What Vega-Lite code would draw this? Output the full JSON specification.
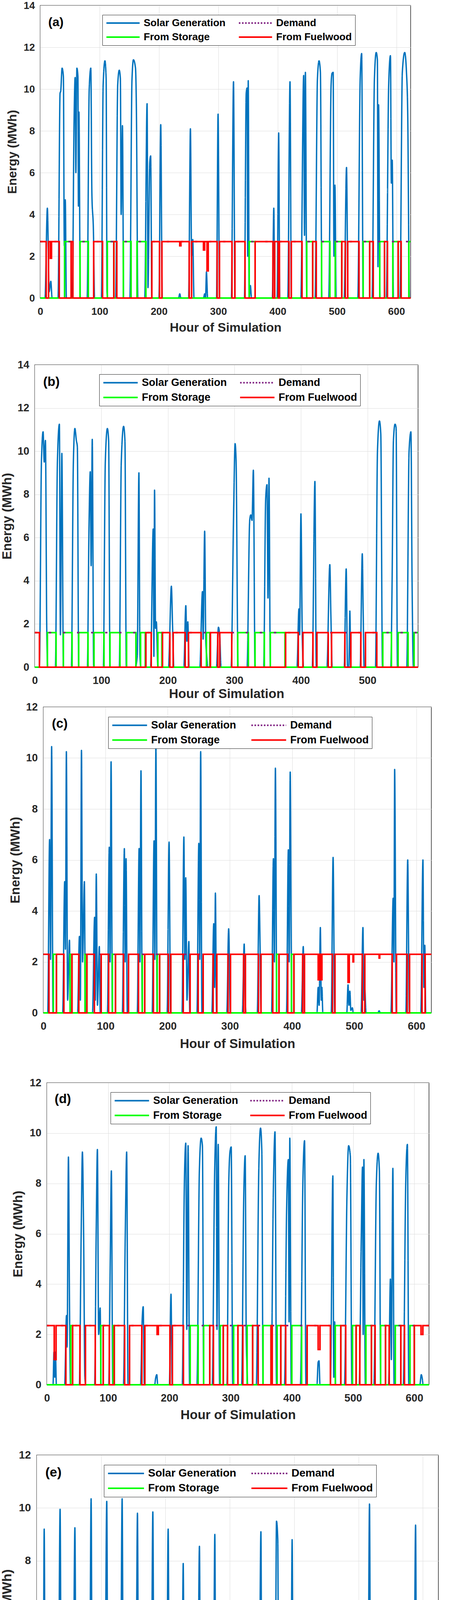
{
  "$schema": "https://vega.github.io/schema/vega-lite/v6.json",
  "background": "white",
  "padding": {"left": 0, "top": 0, "right": 0, "bottom": 0},
  "spacing": 0,
  "config": {
    "font": "'Liberation Sans', Arial, sans-serif",
    "view": {"stroke": "#262626", "strokeWidth": 1.5},
    "axis": {"labelFont": "'Liberation Sans', Arial, sans-serif", "labelFontWeight": "bold", "labelColor": "#262626", "titleFont": "'Liberation Sans', Arial, sans-serif", "titleFontWeight": "bold", "titleColor": "#262626", "gridColor": "#DEDEDE", "gridWidth": 1, "domain": false, "ticks": false, "labelFlush": false, "labelOverlap": false, "format": "d"},
    "legend": {"labelFont": "'Liberation Sans', Arial, sans-serif", "labelFontWeight": "bold", "labelColor": "#000000", "strokeColor": "#262626", "fillColor": "#ffffff", "symbolType": "M-1,0H7", "symbolStrokeWidth": 4, "rowPadding": 10, "padding": 8, "orient": "none", "columns": 2, "labelLimit": 0}
  },
  "datasets": {
    "a_s": [{"h":0,"v":0},{"h":8,"v":0},{"h":12,"v":4.3},{"h":15,"v":0.3},{"h":17.8,"v":0.8},{"h":20,"v":0},{"h":30,"v":0},{"h":33.4,"v":9.8},{"h":34.5,"v":9.9},{"h":36.8,"v":11},{"h":39,"v":10.6},{"h":40.5,"v":2.5},{"h":42.2,"v":4.7},{"h":44,"v":0},{"h":54,"v":0},{"h":57,"v":8.5},{"h":58.8,"v":10.55},{"h":60,"v":6},{"h":61.7,"v":11},{"h":63.5,"v":10.6},{"h":64.3,"v":4.4},{"h":65.2,"v":8.9},{"h":67.5,"v":0},{"h":79,"v":0},{"h":82.5,"v":10},{"h":85.2,"v":11},{"h":87,"v":5},{"h":89.6,"v":3.2},{"h":91.5,"v":0},{"h":103,"v":0},{"h":106,"v":10.2},{"h":109,"v":11.35},{"h":111,"v":10.5},{"h":112.5,"v":0.3},{"h":114,"v":0},{"h":127,"v":0},{"h":130.5,"v":10.2},{"h":133.1,"v":10.9},{"h":135,"v":10.5},{"h":136.3,"v":4},{"h":138.5,"v":8.25},{"h":140.5,"v":0},{"h":151,"v":0},{"h":154.5,"v":10.4},{"h":157,"v":11.4},{"h":160.5,"v":11},{"h":162,"v":9},{"h":164.5,"v":0},{"h":176,"v":0},{"h":180,"v":9.3},{"h":181.5,"v":0.5},{"h":184.5,"v":6.5},{"h":186,"v":6.8},{"h":188,"v":0},{"h":200,"v":0},{"h":203,"v":8.3},{"h":205.5,"v":0},{"h":233,"v":0},{"h":235,"v":0.2},{"h":237,"v":0},{"h":250,"v":0},{"h":253,"v":8.1},{"h":255,"v":2},{"h":257,"v":2.8},{"h":259,"v":0},{"h":275,"v":0},{"h":277,"v":0.2},{"h":278.5,"v":0},{"h":280,"v":1.25},{"h":282,"v":0},{"h":297,"v":0},{"h":299.6,"v":8.8},{"h":302,"v":0},{"h":322,"v":0},{"h":325.6,"v":10.35},{"h":328,"v":0},{"h":344,"v":0},{"h":347,"v":9.8},{"h":348.5,"v":10.05},{"h":349.5,"v":2},{"h":350.4,"v":10.4},{"h":352,"v":0},{"h":354,"v":0.6},{"h":356,"v":0},{"h":391,"v":0},{"h":393.5,"v":4.3},{"h":395,"v":0},{"h":399,"v":0},{"h":401.7,"v":7.9},{"h":403.5,"v":0},{"h":417,"v":0},{"h":420.8,"v":10.35},{"h":423,"v":0},{"h":439,"v":0},{"h":443.8,"v":10.65},{"h":445.2,"v":3},{"h":446.7,"v":10.8},{"h":449,"v":0},{"h":463,"v":0},{"h":467,"v":10.5},{"h":469.7,"v":11.35},{"h":472,"v":10.8},{"h":474.5,"v":0},{"h":486,"v":0},{"h":490,"v":10.2},{"h":491.6,"v":10.75},{"h":493.5,"v":10.8},{"h":494.8,"v":2},{"h":496.5,"v":5.4},{"h":498.5,"v":0},{"h":512,"v":0},{"h":516,"v":6.25},{"h":518.5,"v":0},{"h":535,"v":0},{"h":539,"v":10.5},{"h":541.5,"v":11.7},{"h":544,"v":0},{"h":559,"v":0},{"h":563,"v":10.5},{"h":566,"v":11.75},{"h":568,"v":11.4},{"h":569,"v":1.5},{"h":570,"v":9.25},{"h":572.5,"v":0},{"h":583,"v":0},{"h":587,"v":10.2},{"h":590,"v":11.6},{"h":591.5,"v":5.5},{"h":593,"v":6.6},{"h":595,"v":0},{"h":606,"v":0},{"h":610,"v":10.8},{"h":614,"v":11.75},{"h":617,"v":10.8},{"h":619,"v":9},{"h":622,"v":0},{"h":624,"v":0}],
    "a_g": [{"h":0,"v":0},{"h":41,"v":2.7},{"h":52,"v":0},{"h":67,"v":2.7},{"h":81,"v":0},{"h":113,"v":2.7},{"h":124,"v":0},{"h":140,"v":2.7},{"h":153,"v":0},{"h":163,"v":2.7},{"h":178,"v":0},{"h":352,"v":2.7},{"h":362,"v":0},{"h":449,"v":2.7},{"h":459,"v":0},{"h":474,"v":2.7},{"h":488,"v":0},{"h":497,"v":2.7},{"h":508,"v":0},{"h":544,"v":2.7},{"h":555,"v":0},{"h":572,"v":2.7},{"h":580,"v":0},{"h":594,"v":2.7},{"h":603,"v":0},{"h":621,"v":2.7},{"h":624,"v":2.7}],
    "a_d": [{"h":0,"v":2.7},{"h":624,"v":2.7}],
    "a_r": [{"h":0,"v":2.7},{"h":10,"v":0},{"h":14,"v":2.7},{"h":17,"v":1.9},{"h":19,"v":2.7},{"h":32,"v":0},{"h":52,"v":2.7},{"h":55,"v":0},{"h":90,"v":2.7},{"h":105,"v":0},{"h":124,"v":2.7},{"h":129,"v":0},{"h":188,"v":2.7},{"h":201,"v":0},{"h":205,"v":2.7},{"h":235,"v":2.5},{"h":237,"v":2.7},{"h":251,"v":0},{"h":255,"v":2.7},{"h":275,"v":2.3},{"h":277,"v":2.7},{"h":281,"v":1.3},{"h":283,"v":2.7},{"h":298,"v":0},{"h":302,"v":2.7},{"h":323,"v":0},{"h":328,"v":2.7},{"h":345,"v":0},{"h":362,"v":2.7},{"h":392,"v":0},{"h":395,"v":2.7},{"h":401,"v":0},{"h":403,"v":2.7},{"h":419,"v":0},{"h":423,"v":2.7},{"h":441,"v":0},{"h":459,"v":2.7},{"h":465,"v":0},{"h":508,"v":2.7},{"h":514,"v":0},{"h":518,"v":2.7},{"h":537,"v":0},{"h":555,"v":2.7},{"h":561,"v":0},{"h":580,"v":2.7},{"h":585,"v":0},{"h":603,"v":2.7},{"h":608,"v":0},{"h":624,"v":0}],
    "b_s": [{"h":0,"v":0},{"h":7,"v":0},{"h":10,"v":9.5},{"h":12.5,"v":10.9},{"h":14.2,"v":9.5},{"h":16,"v":10.5},{"h":18,"v":1.8},{"h":19.5,"v":0},{"h":31,"v":0},{"h":34,"v":9.5},{"h":37,"v":11.25},{"h":38.5,"v":1.5},{"h":40.7,"v":9.9},{"h":43,"v":0},{"h":55,"v":0},{"h":58,"v":9.5},{"h":60.3,"v":11.05},{"h":62.5,"v":10.5},{"h":64,"v":10.2},{"h":66,"v":0},{"h":79,"v":0},{"h":81.5,"v":6.5},{"h":83.4,"v":9.05},{"h":84.7,"v":4.7},{"h":86.4,"v":10.55},{"h":88.5,"v":0},{"h":103,"v":0},{"h":106,"v":9.5},{"h":109.1,"v":11.05},{"h":111,"v":10.5},{"h":113,"v":0},{"h":127,"v":0},{"h":130,"v":9.5},{"h":133.5,"v":11.15},{"h":135.5,"v":10.5},{"h":137.5,"v":0},{"h":151,"v":0},{"h":154,"v":0.5},{"h":156.5,"v":9},{"h":158,"v":0.5},{"h":159.5,"v":0},{"h":174,"v":0},{"h":178,"v":6.4},{"h":179,"v":0.5},{"h":180,"v":8.2},{"h":181.5,"v":1.8},{"h":182.7,"v":2.1},{"h":185,"v":0},{"h":201,"v":0},{"h":205.3,"v":3.75},{"h":207,"v":2},{"h":209,"v":0},{"h":224,"v":0},{"h":227,"v":2.85},{"h":228.5,"v":1.2},{"h":230,"v":2.1},{"h":232,"v":0},{"h":248,"v":0},{"h":252,"v":3.5},{"h":253,"v":1.3},{"h":255.3,"v":6.3},{"h":257,"v":1.2},{"h":258.5,"v":0.5},{"h":260,"v":0},{"h":273,"v":0},{"h":276,"v":1.85},{"h":278,"v":1.4},{"h":280,"v":0},{"h":295,"v":0},{"h":299,"v":7.5},{"h":301,"v":10.35},{"h":302.5,"v":9.6},{"h":305.5,"v":0},{"h":319,"v":0},{"h":323,"v":6.8},{"h":324.6,"v":7.05},{"h":326.5,"v":6.8},{"h":328.5,"v":9.12},{"h":331,"v":0},{"h":344,"v":0},{"h":347,"v":7.8},{"h":349,"v":8.45},{"h":350.5,"v":3.2},{"h":352,"v":8.75},{"h":354,"v":0},{"h":394,"v":0},{"h":397,"v":2.7},{"h":398,"v":1.5},{"h":400,"v":7.1},{"h":402,"v":1.5},{"h":404,"v":0},{"h":417,"v":0},{"h":421,"v":8.6},{"h":423,"v":0},{"h":439,"v":0},{"h":443.4,"v":4.75},{"h":445,"v":2.4},{"h":447,"v":0},{"h":465,"v":0},{"h":468,"v":4.55},{"h":470,"v":0},{"h":472,"v":0},{"h":473.5,"v":2.6},{"h":475,"v":0},{"h":489,"v":0},{"h":492.2,"v":5.25},{"h":493.5,"v":2.6},{"h":495,"v":0},{"h":512,"v":0},{"h":515,"v":10},{"h":518,"v":11.4},{"h":520,"v":10.8},{"h":522.5,"v":0},{"h":535,"v":0},{"h":537,"v":4},{"h":539,"v":10.5},{"h":541.4,"v":11.25},{"h":543,"v":11.1},{"h":545,"v":0},{"h":559,"v":0},{"h":562.5,"v":10},{"h":565.3,"v":10.9},{"h":567,"v":4},{"h":569,"v":0},{"h":576,"v":0}],
    "b_g": [{"h":0,"v":0},{"h":19,"v":1.6},{"h":32,"v":0},{"h":43,"v":1.6},{"h":56,"v":0},{"h":66,"v":1.6},{"h":80,"v":0},{"h":89,"v":1.6},{"h":104,"v":0},{"h":113,"v":1.6},{"h":128,"v":0},{"h":138,"v":1.6},{"h":152,"v":0},{"h":159,"v":1.6},{"h":166,"v":0},{"h":185,"v":1.6},{"h":191,"v":0},{"h":258,"v":1.6},{"h":263,"v":0},{"h":305,"v":1.6},{"h":321,"v":0},{"h":331,"v":1.6},{"h":345,"v":0},{"h":354,"v":1.6},{"h":376,"v":0},{"h":523,"v":1.6},{"h":536,"v":0},{"h":546,"v":1.6},{"h":561,"v":0},{"h":570,"v":1.6},{"h":576,"v":1.6}],
    "b_d": [{"h":0,"v":1.6},{"h":576,"v":1.6}],
    "b_r": [{"h":0,"v":1.6},{"h":7,"v":0},{"h":167,"v":1.6},{"h":175,"v":0},{"h":192,"v":1.6},{"h":203,"v":0},{"h":208,"v":1.6},{"h":226,"v":0},{"h":231,"v":1.6},{"h":250,"v":0},{"h":264,"v":1.6},{"h":275,"v":0},{"h":278,"v":1.6},{"h":296,"v":0},{"h":377,"v":1.6},{"h":396,"v":0},{"h":403,"v":1.6},{"h":418,"v":0},{"h":424,"v":1.6},{"h":441,"v":0},{"h":446,"v":1.6},{"h":466,"v":0},{"h":475,"v":1.6},{"h":490,"v":0},{"h":497,"v":1.6},{"h":514,"v":0},{"h":576,"v":0}],
    "c_s": [{"h":0,"v":0},{"h":7,"v":0},{"h":10,"v":6.8},{"h":11.5,"v":2.1},{"h":13.3,"v":10.45},{"h":15.5,"v":0},{"h":31,"v":0},{"h":34.3,"v":5.15},{"h":35.5,"v":2.5},{"h":37,"v":10.25},{"h":39,"v":0.5},{"h":42,"v":2.85},{"h":43.5,"v":0},{"h":55,"v":0},{"h":58,"v":3},{"h":59.5,"v":0.5},{"h":61.3,"v":10.3},{"h":63,"v":2},{"h":66,"v":5.15},{"h":67.5,"v":0},{"h":79,"v":0},{"h":82.4,"v":3.75},{"h":83.5,"v":0.5},{"h":85.1,"v":5.45},{"h":87,"v":0.3},{"h":90,"v":2.6},{"h":91.5,"v":0},{"h":103,"v":0},{"h":106,"v":6.5},{"h":107.3,"v":2},{"h":108.9,"v":9.85},{"h":111,"v":0},{"h":127,"v":0},{"h":130.3,"v":6.45},{"h":131.5,"v":2},{"h":133,"v":6.05},{"h":135,"v":0},{"h":151,"v":0},{"h":154,"v":6.45},{"h":155.3,"v":2},{"h":157,"v":9.5},{"h":159,"v":0},{"h":175,"v":0},{"h":178,"v":6.75},{"h":179.3,"v":2.1},{"h":181,"v":10.5},{"h":183,"v":0},{"h":199,"v":0},{"h":202.2,"v":6.7},{"h":204.5,"v":0},{"h":223,"v":0},{"h":226,"v":6.9},{"h":227.5,"v":2.1},{"h":229,"v":5.3},{"h":231,"v":0.5},{"h":234,"v":2.8},{"h":235.5,"v":0},{"h":247,"v":0},{"h":250,"v":6.65},{"h":251.5,"v":2.1},{"h":253,"v":10.25},{"h":255,"v":0},{"h":271,"v":0},{"h":274,"v":3.5},{"h":275.3,"v":1},{"h":276.7,"v":4.7},{"h":278.5,"v":0},{"h":295,"v":0},{"h":298,"v":3.3},{"h":300.5,"v":0},{"h":320,"v":0},{"h":323,"v":2.7},{"h":324.5,"v":0.6},{"h":326,"v":0},{"h":344,"v":0},{"h":347,"v":4.6},{"h":348.5,"v":2.7},{"h":350,"v":0},{"h":367,"v":0},{"h":370,"v":6.05},{"h":371.5,"v":2},{"h":373.2,"v":9.6},{"h":375.5,"v":0},{"h":391,"v":0},{"h":394,"v":6.4},{"h":395.3,"v":2},{"h":397,"v":9.45},{"h":399.5,"v":0},{"h":415,"v":0},{"h":418,"v":2.6},{"h":420,"v":0},{"h":440,"v":0},{"h":442,"v":1},{"h":443.5,"v":0.3},{"h":445.5,"v":3.35},{"h":447,"v":0.5},{"h":448,"v":1},{"h":449.5,"v":0},{"h":463,"v":0},{"h":466,"v":6.1},{"h":468.5,"v":0},{"h":488,"v":0},{"h":490,"v":1.1},{"h":491.5,"v":0.3},{"h":493,"v":0.85},{"h":494.5,"v":0.1},{"h":497,"v":0.2},{"h":498.5,"v":0},{"h":511,"v":0},{"h":514,"v":3.35},{"h":515.5,"v":0.5},{"h":517,"v":0.9},{"h":519,"v":0},{"h":538,"v":0},{"h":540,"v":0.08},{"h":542,"v":0},{"h":559,"v":0},{"h":562.6,"v":4.5},{"h":563.8,"v":2},{"h":565,"v":9.55},{"h":567.5,"v":0},{"h":583,"v":0},{"h":586,"v":6},{"h":588.5,"v":0},{"h":607,"v":0},{"h":610.5,"v":6},{"h":612,"v":1},{"h":613.5,"v":2.65},{"h":615,"v":0},{"h":624,"v":0}],
    "c_g": [{"h":0,"v":0},{"h":16,"v":2.3},{"h":21,"v":0},{"h":43,"v":2.3},{"h":46,"v":0},{"h":67,"v":2.3},{"h":70,"v":0},{"h":111,"v":2.3},{"h":116,"v":0},{"h":159,"v":2.3},{"h":163,"v":0},{"h":183,"v":2.3},{"h":187,"v":0},{"h":375,"v":2.3},{"h":379,"v":0},{"h":399,"v":2.3},{"h":403,"v":0},{"h":624,"v":0}],
    "c_d": [{"h":0,"v":2.3},{"h":624,"v":2.3}],
    "c_r": [{"h":0,"v":2.3},{"h":9,"v":0},{"h":21,"v":2.3},{"h":33,"v":0},{"h":46,"v":2.3},{"h":57,"v":0},{"h":70,"v":2.3},{"h":82,"v":0},{"h":93,"v":2.3},{"h":105,"v":0},{"h":116,"v":2.3},{"h":129,"v":0},{"h":137,"v":2.3},{"h":153,"v":0},{"h":163,"v":2.3},{"h":177,"v":0},{"h":187,"v":2.3},{"h":201,"v":0},{"h":205,"v":2.3},{"h":225,"v":0},{"h":236,"v":2.3},{"h":249,"v":0},{"h":257,"v":2.3},{"h":273,"v":0},{"h":279,"v":2.3},{"h":297,"v":0},{"h":301,"v":2.3},{"h":322,"v":0},{"h":325,"v":2.3},{"h":346,"v":0},{"h":350,"v":2.3},{"h":369,"v":0},{"h":379,"v":2.3},{"h":393,"v":0},{"h":403,"v":2.3},{"h":417,"v":0},{"h":420,"v":2.3},{"h":442,"v":1.3},{"h":444,"v":2.3},{"h":446,"v":1.3},{"h":448,"v":2.3},{"h":465,"v":0},{"h":469,"v":2.3},{"h":490,"v":1.2},{"h":492,"v":2.3},{"h":498,"v":2},{"h":499,"v":2.3},{"h":513,"v":0},{"h":517,"v":2.3},{"h":540,"v":2.15},{"h":541,"v":2.3},{"h":561,"v":0},{"h":568,"v":2.3},{"h":585,"v":0},{"h":589,"v":2.3},{"h":609,"v":0},{"h":614,"v":2.3},{"h":624,"v":2.3}],
    "d_s": [{"h":0,"v":0},{"h":10,"v":0},{"h":11.6,"v":1.3},{"h":12.8,"v":0.3},{"h":14,"v":1.3},{"h":15.5,"v":0},{"h":29,"v":0},{"h":32,"v":2.75},{"h":33,"v":1.5},{"h":35.2,"v":9.05},{"h":37,"v":3},{"h":38.5,"v":0},{"h":53,"v":0},{"h":56,"v":6},{"h":58,"v":9.25},{"h":60,"v":6},{"h":62,"v":0.3},{"h":63.5,"v":0},{"h":78,"v":0},{"h":80.5,"v":6},{"h":82.5,"v":9.35},{"h":84.5,"v":2},{"h":87,"v":3.05},{"h":88.5,"v":0},{"h":101,"v":0},{"h":103.5,"v":5},{"h":105.3,"v":8.5},{"h":107.5,"v":0},{"h":125,"v":0},{"h":128,"v":6},{"h":130.3,"v":9.25},{"h":132.5,"v":0},{"h":153,"v":0},{"h":155.5,"v":2.5},{"h":157.3,"v":3.1},{"h":159,"v":0},{"h":176,"v":0},{"h":177.5,"v":0.25},{"h":179.5,"v":0.4},{"h":181,"v":0},{"h":200,"v":0},{"h":202.7,"v":3.6},{"h":204.5,"v":0},{"h":221,"v":0},{"h":224.5,"v":8},{"h":226.8,"v":9.6},{"h":228.5,"v":2.2},{"h":230.6,"v":9.5},{"h":233,"v":0},{"h":245,"v":0},{"h":249,"v":8.5},{"h":251.9,"v":9.8},{"h":254,"v":9.5},{"h":256,"v":0},{"h":270,"v":0},{"h":274,"v":8.5},{"h":276.5,"v":10.25},{"h":277.8,"v":2.2},{"h":279.8,"v":9.55},{"h":282,"v":0},{"h":294,"v":0},{"h":297,"v":8},{"h":299.2,"v":9.3},{"h":301,"v":9.45},{"h":303.5,"v":0},{"h":318,"v":0},{"h":321.5,"v":7.5},{"h":323.8,"v":9.1},{"h":325.5,"v":2},{"h":326.5,"v":0.9},{"h":328,"v":0},{"h":342,"v":0},{"h":346,"v":8.5},{"h":348.9,"v":10.2},{"h":351,"v":9.3},{"h":353,"v":0},{"h":366,"v":0},{"h":370,"v":8},{"h":372.5,"v":10.05},{"h":375,"v":0},{"h":388,"v":0},{"h":391.5,"v":7},{"h":394.3,"v":8.95},{"h":395.5,"v":2.5},{"h":396.7,"v":9.8},{"h":399,"v":0},{"h":414,"v":0},{"h":418,"v":8},{"h":420.8,"v":9.7},{"h":423,"v":0},{"h":441,"v":0},{"h":443,"v":0.9},{"h":444.4,"v":0.95},{"h":446,"v":0},{"h":463,"v":0},{"h":467,"v":8.3},{"h":468.5,"v":0.3},{"h":470,"v":2.5},{"h":471.5,"v":0},{"h":486,"v":0},{"h":490,"v":7.5},{"h":492.7,"v":9.5},{"h":495.5,"v":9.1},{"h":498,"v":0},{"h":510,"v":0},{"h":513.5,"v":6},{"h":515.4,"v":8.65},{"h":516.5,"v":2},{"h":517.7,"v":8.95},{"h":520,"v":0},{"h":534,"v":0},{"h":538,"v":8},{"h":540.9,"v":9.2},{"h":543,"v":8.5},{"h":545,"v":0},{"h":558,"v":0},{"h":561,"v":4.2},{"h":562.5,"v":1},{"h":565,"v":8.6},{"h":567,"v":0},{"h":582,"v":0},{"h":586,"v":8},{"h":588.7,"v":9.55},{"h":591,"v":0},{"h":609,"v":0},{"h":611.4,"v":0.4},{"h":613,"v":0.25},{"h":614.5,"v":0},{"h":624,"v":0}],
    "d_g": [{"h":0,"v":0},{"h":39,"v":2.35},{"h":42,"v":0},{"h":88,"v":2.35},{"h":92,"v":0},{"h":108,"v":2.35},{"h":110,"v":0},{"h":234,"v":2.35},{"h":247,"v":0},{"h":256,"v":2.35},{"h":266,"v":0},{"h":283,"v":2.35},{"h":288,"v":0},{"h":305,"v":2.35},{"h":312,"v":0},{"h":327,"v":2.35},{"h":336,"v":0},{"h":353,"v":2.35},{"h":366,"v":0},{"h":376,"v":2.35},{"h":382,"v":0},{"h":400,"v":2.35},{"h":416,"v":0},{"h":471,"v":2.35},{"h":480,"v":0},{"h":499,"v":2.35},{"h":505,"v":0},{"h":521,"v":2.35},{"h":530,"v":0},{"h":545,"v":2.35},{"h":553,"v":0},{"h":569,"v":2.35},{"h":578,"v":0},{"h":593,"v":2.35},{"h":600,"v":0},{"h":624,"v":0}],
    "d_d": [{"h":0,"v":2.35},{"h":624,"v":2.35}],
    "d_r": [{"h":0,"v":2.35},{"h":12,"v":1},{"h":15,"v":2.35},{"h":31,"v":0},{"h":42,"v":2.35},{"h":54,"v":0},{"h":63,"v":2.35},{"h":79,"v":0},{"h":92,"v":2.35},{"h":102,"v":0},{"h":110,"v":2.35},{"h":127,"v":0},{"h":135,"v":2.35},{"h":155,"v":0},{"h":160,"v":2.35},{"h":180,"v":2},{"h":182,"v":2.35},{"h":201,"v":0},{"h":205,"v":2.35},{"h":223,"v":0},{"h":266,"v":2.35},{"h":272,"v":0},{"h":288,"v":2.35},{"h":295,"v":0},{"h":312,"v":2.35},{"h":320,"v":0},{"h":336,"v":2.35},{"h":345,"v":0},{"h":366,"v":2.35},{"h":368,"v":0},{"h":382,"v":2.35},{"h":390,"v":0},{"h":425,"v":2.35},{"h":443,"v":1.4},{"h":446,"v":2.35},{"h":463,"v":0},{"h":480,"v":2.35},{"h":488,"v":0},{"h":505,"v":2.35},{"h":511,"v":0},{"h":530,"v":2.35},{"h":536,"v":0},{"h":553,"v":2.35},{"h":559,"v":0},{"h":578,"v":2.35},{"h":584,"v":0},{"h":600,"v":2.35},{"h":611,"v":2},{"h":614,"v":2.35},{"h":624,"v":2.35}],
    "e_s": [{"h":0,"v":0},{"h":6,"v":0},{"h":8.5,"v":5.55},{"h":10,"v":2},{"h":11.6,"v":9.2},{"h":13.5,"v":0},{"h":29,"v":0},{"h":32.3,"v":5.2},{"h":33.5,"v":2},{"h":36.3,"v":9.95},{"h":38.5,"v":0},{"h":56,"v":0},{"h":59.3,"v":9.25},{"h":61.5,"v":0},{"h":77,"v":0},{"h":80.5,"v":6.4},{"h":82,"v":2},{"h":84.5,"v":10.35},{"h":86.5,"v":0},{"h":101,"v":0},{"h":104.3,"v":6.1},{"h":105.8,"v":2},{"h":108.8,"v":10.25},{"h":110.8,"v":0},{"h":125,"v":0},{"h":128.6,"v":6.3},{"h":130,"v":2},{"h":132.7,"v":10.35},{"h":134.8,"v":0},{"h":149,"v":0},{"h":152.5,"v":6.05},{"h":154,"v":2},{"h":156.5,"v":9.8},{"h":158.5,"v":0},{"h":173,"v":0},{"h":176.3,"v":5.7},{"h":177.8,"v":2},{"h":180.4,"v":9.85},{"h":182.5,"v":0},{"h":197,"v":0},{"h":200.2,"v":5.5},{"h":201.7,"v":2},{"h":204.2,"v":9.2},{"h":206.3,"v":0},{"h":225,"v":0},{"h":227.6,"v":7.9},{"h":229.5,"v":0},{"h":245,"v":0},{"h":248.3,"v":4.2},{"h":249.8,"v":1.5},{"h":252.8,"v":8.55},{"h":254.8,"v":0},{"h":274,"v":0},{"h":276.7,"v":9},{"h":278.5,"v":0},{"h":297.5,"v":0},{"h":300.1,"v":3.4},{"h":301.8,"v":0},{"h":323,"v":0},{"h":325,"v":0.45},{"h":326,"v":0.2},{"h":327,"v":1.1},{"h":328.5,"v":0},{"h":345,"v":0},{"h":348.3,"v":9.1},{"h":350,"v":0},{"h":366,"v":0},{"h":369,"v":4.55},{"h":370.5,"v":2},{"h":372.5,"v":9.5},{"h":374.5,"v":8.8},{"h":376,"v":0},{"h":390,"v":0},{"h":393.3,"v":4.45},{"h":394.8,"v":2},{"h":396.8,"v":8.8},{"h":398.8,"v":0},{"h":416,"v":0},{"h":419.4,"v":5.25},{"h":420.7,"v":2},{"h":422,"v":4.05},{"h":423.5,"v":0},{"h":441.5,"v":0},{"h":444.1,"v":3},{"h":445.5,"v":0},{"h":466,"v":0},{"h":469,"v":1.15},{"h":470.5,"v":0.2},{"h":472,"v":0.7},{"h":473.5,"v":0},{"h":489,"v":0},{"h":491,"v":0.9},{"h":492.5,"v":0},{"h":510,"v":0},{"h":513,"v":6},{"h":514.5,"v":2},{"h":517,"v":10.15},{"h":519,"v":0},{"h":537.5,"v":0},{"h":540,"v":5.45},{"h":541.5,"v":0},{"h":561,"v":0},{"h":563.5,"v":0.65},{"h":565,"v":0},{"h":582,"v":0},{"h":584.6,"v":5},{"h":586,"v":2},{"h":588.6,"v":9.35},{"h":590.5,"v":0},{"h":606,"v":0},{"h":608.4,"v":0.8},{"h":610,"v":0.3},{"h":613,"v":3.75},{"h":615,"v":0},{"h":624,"v":0}],
    "e_g": [{"h":0,"v":0},{"h":39,"v":2.6},{"h":41,"v":0},{"h":62,"v":2.6},{"h":64,"v":0},{"h":87,"v":2.6},{"h":91,"v":0},{"h":111,"v":2.6},{"h":113,"v":0},{"h":135,"v":2.6},{"h":137,"v":0},{"h":159,"v":2.6},{"h":163,"v":0},{"h":183,"v":2.6},{"h":186,"v":0},{"h":255,"v":2.6},{"h":260,"v":0},{"h":350,"v":2.6},{"h":368,"v":0},{"h":624,"v":0}],
    "e_d": [{"h":0,"v":2.6},{"h":624,"v":2.6}],
    "e_r": [{"h":0,"v":2.6},{"h":7,"v":0},{"h":14,"v":2.6},{"h":31,"v":0},{"h":41,"v":2.6},{"h":57,"v":0},{"h":64,"v":2.6},{"h":79,"v":0},{"h":91,"v":2.6},{"h":103,"v":0},{"h":113,"v":2.6},{"h":127,"v":0},{"h":137,"v":2.6},{"h":151,"v":0},{"h":163,"v":2.6},{"h":175,"v":0},{"h":186,"v":2.6},{"h":199,"v":0},{"h":208,"v":2.6},{"h":226,"v":0},{"h":231,"v":2.6},{"h":247,"v":0},{"h":260,"v":2.6},{"h":275,"v":0},{"h":280,"v":2.6},{"h":299,"v":0},{"h":302,"v":2.6},{"h":325,"v":2.1},{"h":326,"v":2.6},{"h":327,"v":1.5},{"h":329,"v":2.6},{"h":347,"v":0},{"h":376,"v":2.6},{"h":392,"v":0},{"h":400,"v":2.6},{"h":418,"v":0},{"h":423,"v":2.6},{"h":443,"v":0},{"h":446,"v":2.6},{"h":469,"v":1.5},{"h":471,"v":2.6},{"h":491,"v":1.7},{"h":493,"v":2.6},{"h":512,"v":0},{"h":520,"v":2.6},{"h":539,"v":0},{"h":542,"v":2.6},{"h":563,"v":2},{"h":565,"v":2.6},{"h":584,"v":0},{"h":591,"v":2.6},{"h":608,"v":1.8},{"h":610,"v":2.6},{"h":611,"v":0},{"h":615,"v":2.6},{"h":624,"v":2.6}],
    "f_s": [{"h":0,"v":0},{"h":7,"v":0},{"h":9.8,"v":4.8},{"h":11.2,"v":5.15},{"h":12.5,"v":1.7},{"h":14,"v":1.7},{"h":16.6,"v":2.2},{"h":18.5,"v":0},{"h":33,"v":0},{"h":36,"v":5.4},{"h":38,"v":0},{"h":53,"v":0},{"h":56.7,"v":8.15},{"h":58,"v":5},{"h":60.3,"v":10.5},{"h":62.5,"v":0},{"h":78,"v":0},{"h":81,"v":2.85},{"h":82.5,"v":0.3},{"h":84.5,"v":0.8},{"h":87,"v":0.8},{"h":89,"v":0},{"h":102,"v":0},{"h":105.9,"v":4.82},{"h":107.5,"v":3.3},{"h":110,"v":4.05},{"h":112,"v":0},{"h":125,"v":0},{"h":128.4,"v":4.42},{"h":130,"v":2.7},{"h":132,"v":5.3},{"h":134,"v":2.8},{"h":136,"v":4.05},{"h":138,"v":0},{"h":150,"v":0},{"h":154,"v":9},{"h":156.8,"v":10.98},{"h":158.5,"v":9},{"h":160,"v":5.9},{"h":162,"v":0},{"h":173,"v":0},{"h":175.8,"v":3.85},{"h":176.8,"v":2},{"h":178,"v":9.11},{"h":180,"v":2},{"h":183.4,"v":3.25},{"h":185,"v":0},{"h":199,"v":0},{"h":201.5,"v":3.4},{"h":203,"v":2.2},{"h":205,"v":4.31},{"h":207,"v":0.8},{"h":210,"v":0},{"h":229,"v":0},{"h":230.5,"v":0.05},{"h":232,"v":0},{"h":253,"v":0},{"h":255,"v":1.6},{"h":257,"v":0.5},{"h":259.2,"v":3.23},{"h":261,"v":0},{"h":272,"v":0},{"h":274.5,"v":3},{"h":276,"v":2.2},{"h":278,"v":1.5},{"h":281.3,"v":9.43},{"h":283.5,"v":0},{"h":295,"v":0},{"h":298,"v":9.4},{"h":299.7,"v":10.19},{"h":302,"v":0},{"h":322,"v":0},{"h":326.3,"v":10.04},{"h":327.5,"v":3},{"h":329,"v":5.17},{"h":331,"v":0},{"h":345,"v":0},{"h":348,"v":10.87},{"h":350,"v":0},{"h":367,"v":0},{"h":370,"v":10},{"h":372.8,"v":11.27},{"h":375,"v":10},{"h":376.5,"v":2},{"h":378.2,"v":8.57},{"h":380,"v":0},{"h":391,"v":0},{"h":394,"v":10.5},{"h":396.6,"v":11.8},{"h":398.3,"v":3.7},{"h":400.3,"v":10.74},{"h":402.5,"v":0},{"h":415,"v":0},{"h":418,"v":10},{"h":421,"v":11.33},{"h":423,"v":10.5},{"h":425,"v":0},{"h":465,"v":0},{"h":469.7,"v":9.89},{"h":472,"v":0},{"h":486,"v":0},{"h":488,"v":1.6},{"h":490,"v":8.44},{"h":492.7,"v":10.04},{"h":494,"v":3},{"h":495.8,"v":8.9},{"h":498,"v":0},{"h":510,"v":0},{"h":513,"v":9.5},{"h":515.7,"v":10.63},{"h":518.4,"v":10.55},{"h":520.5,"v":0},{"h":535,"v":0},{"h":538,"v":9.5},{"h":540.9,"v":10.87},{"h":543,"v":0},{"h":559,"v":0},{"h":562,"v":9.5},{"h":564.4,"v":11.47},{"h":566,"v":1.6},{"h":568,"v":10.35},{"h":570.5,"v":0},{"h":583,"v":0},{"h":586,"v":10},{"h":588.3,"v":11.84},{"h":590.5,"v":11},{"h":592.3,"v":10.6},{"h":594,"v":5.1},{"h":596,"v":0},{"h":607,"v":0},{"h":610,"v":10},{"h":612.6,"v":11.73},{"h":615,"v":11},{"h":616.7,"v":10.35},{"h":618.5,"v":4.1},{"h":620,"v":0},{"h":631,"v":0},{"h":634,"v":10},{"h":636.5,"v":11.22},{"h":638.5,"v":10.5},{"h":640,"v":0},{"h":641,"v":0.5},{"h":642.5,"v":0},{"h":648,"v":0}],
    "f_g": [{"h":0,"v":0},{"h":63,"v":2.6},{"h":71,"v":0},{"h":162,"v":2.6},{"h":175,"v":0},{"h":381,"v":2.6},{"h":392,"v":0},{"h":404,"v":2.6},{"h":416,"v":0},{"h":425,"v":2.6},{"h":438,"v":0},{"h":498,"v":2.6},{"h":503,"v":0},{"h":545,"v":2.6},{"h":550,"v":0},{"h":571,"v":2.6},{"h":576,"v":0},{"h":596,"v":2.6},{"h":600,"v":0},{"h":620,"v":2.6},{"h":626,"v":0},{"h":640,"v":2.6},{"h":648,"v":2.6}],
    "f_d": [{"h":0,"v":2.6},{"h":648,"v":2.6}],
    "f_r": [{"h":0,"v":2.6},{"h":8,"v":0},{"h":14,"v":2.6},{"h":15,"v":0.8},{"h":17,"v":2.6},{"h":34,"v":0},{"h":38,"v":2.6},{"h":54,"v":0},{"h":71,"v":2.6},{"h":80,"v":0},{"h":82,"v":2.6},{"h":84,"v":2},{"h":86,"v":2.6},{"h":88,"v":2.3},{"h":90,"v":2.6},{"h":103,"v":0},{"h":112,"v":2.6},{"h":126,"v":0},{"h":138,"v":2.6},{"h":152,"v":0},{"h":185,"v":2.6},{"h":200,"v":0},{"h":207,"v":2.6},{"h":224,"v":2},{"h":227,"v":2.6},{"h":229,"v":2.1},{"h":231,"v":2.6},{"h":251,"v":1},{"h":254,"v":2.6},{"h":255,"v":1.3},{"h":257,"v":2.6},{"h":258,"v":0},{"h":261,"v":2.6},{"h":276,"v":0.5},{"h":279,"v":2.6},{"h":280,"v":0},{"h":284,"v":2.6},{"h":296,"v":0},{"h":303,"v":2.6},{"h":321,"v":1.3},{"h":323,"v":0},{"h":331,"v":2.6},{"h":344,"v":0},{"h":351,"v":2.6},{"h":368,"v":0},{"h":438,"v":2.6},{"h":466,"v":0},{"h":473,"v":2.6},{"h":487,"v":0},{"h":503,"v":2.6},{"h":511,"v":0},{"h":521,"v":2.6},{"h":536,"v":0},{"h":550,"v":2.6},{"h":560,"v":0},{"h":576,"v":2.6},{"h":584,"v":0},{"h":600,"v":2.6},{"h":608,"v":0},{"h":626,"v":2.6},{"h":632,"v":0},{"h":648,"v":0}]
  },
  "vconcat": [
    {
      "spacing": 0,
      "resolve": {"scale": {"color": "independent", "strokeDash": "independent"}},
      "hconcat": [
        {"width": 14, "height": 904.5, "view": {"stroke": null}, "data": {"values": []}, "mark": "point"},
        {
          "width": 948, "height": 749,
          "layer": [
            {"data": {"name": "a_s"}, "mark": {"type": "line", "interpolate": "monotone", "strokeWidth": 3.5},
             "encoding": {
               "x": {"field": "h", "type": "quantitative", "scale": {"domain": [0, 624], "nice": false, "zero": false}, "axis": {"values": [0, 100, 200, 300, 400, 500, 600], "format": "d", "title": "Hour of Simulation", "labelFontSize": 26, "titleFontSize": 32, "labelPadding": 21, "titlePadding": 13}},
               "y": {"field": "v", "type": "quantitative", "scale": {"domain": [0, 14], "nice": false}, "axis": {"values": [0, 2, 4, 6, 8, 10, 12, 14], "format": "d", "title": "Energy (MWh)", "labelFontSize": 26, "titleFontSize": 32, "labelPadding": 14, "titlePadding": 12}},
               "color": {"datum": "Solar Generation", "type": "nominal", "scale": {"domain": ["Solar Generation", "From Storage", "Demand", "From Fuelwood"], "range": ["#0072BD", "#00FF00", "#7E1E80", "#FF0000"]},
                 "legend": {"title": null, "legendX": 159, "legendY": 24, "symbolSize": 451.6, "labelOffset": 71.75, "labelFontSize": 26, "columnPadding": 25}},
               "strokeDash": {"datum": "Solar Generation", "type": "nominal", "scale": {"domain": ["Solar Generation", "From Storage", "Demand", "From Fuelwood"], "range": [[1, 0], [1, 0], [4, 4], [1, 0]]},
                 "legend": {"title": null, "legendX": 159, "legendY": 24, "symbolSize": 451.6, "labelOffset": 71.75, "labelFontSize": 26, "columnPadding": 25}}
             }},
            {"data": {"name": "a_g"}, "mark": {"type": "line", "interpolate": "step-after", "strokeWidth": 4},
             "encoding": {"x": {"field": "h", "type": "quantitative"}, "y": {"field": "v", "type": "quantitative"}, "color": {"datum": "From Storage", "type": "nominal"}}},
            {"data": {"name": "a_d"}, "mark": {"type": "line", "strokeWidth": 4, "strokeDash": [6, 30]},
             "encoding": {"x": {"field": "h", "type": "quantitative"}, "y": {"field": "v", "type": "quantitative"}, "color": {"datum": "Demand", "type": "nominal"}}},
            {"data": {"name": "a_r"}, "mark": {"type": "line", "interpolate": "step-after", "strokeWidth": 4},
             "encoding": {"x": {"field": "h", "type": "quantitative"}, "y": {"field": "v", "type": "quantitative"}, "color": {"datum": "From Fuelwood", "type": "nominal"}}},
            {"data": {"values": [{"t": "(a)"}]}, "mark": {"type": "text", "fontSize": 32, "fontWeight": "bold", "font": "'Liberation Sans', Arial, sans-serif", "fill": "#000000", "align": "center", "baseline": "middle"},
             "encoding": {"x": {"datum": 26.4}, "y": {"datum": 13.2}, "text": {"field": "t"}}}
          ]
        }
      ]
    },
    {
      "spacing": 0,
      "resolve": {"scale": {"color": "independent", "strokeDash": "independent"}},
      "hconcat": [
        {"width": 1, "height": 860.5, "view": {"stroke": null}, "data": {"values": []}, "mark": "point"},
        {
          "width": 981, "height": 774,
          "layer": [
            {"data": {"name": "b_s"}, "mark": {"type": "line", "interpolate": "monotone", "strokeWidth": 3.5},
             "encoding": {
               "x": {"field": "h", "type": "quantitative", "scale": {"domain": [0, 576], "nice": false, "zero": false}, "axis": {"values": [0, 100, 200, 300, 400, 500], "format": "d", "title": "Hour of Simulation", "labelFontSize": 27, "titleFontSize": 33, "labelPadding": 21, "titlePadding": 5.5}},
               "y": {"field": "v", "type": "quantitative", "scale": {"domain": [0, 14], "nice": false}, "axis": {"values": [0, 2, 4, 6, 8, 10, 12, 14], "format": "d", "title": "Energy (MWh)", "labelFontSize": 27, "titleFontSize": 33, "labelPadding": 14.5, "titlePadding": 9}},
               "color": {"datum": "Solar Generation", "type": "nominal", "scale": {"domain": ["Solar Generation", "From Storage", "Demand", "From Fuelwood"], "range": ["#0072BD", "#00FF00", "#7E1E80", "#FF0000"]},
                 "legend": {"title": null, "legendX": 165, "legendY": 24, "symbolSize": 484, "labelOffset": 74, "labelFontSize": 27, "columnPadding": 25}},
               "strokeDash": {"datum": "Solar Generation", "type": "nominal", "scale": {"domain": ["Solar Generation", "From Storage", "Demand", "From Fuelwood"], "range": [[1, 0], [1, 0], [4, 4], [1, 0]]},
                 "legend": {"title": null, "legendX": 165, "legendY": 24, "symbolSize": 484, "labelOffset": 74, "labelFontSize": 27, "columnPadding": 25}}
             }},
            {"data": {"name": "b_g"}, "mark": {"type": "line", "interpolate": "step-after", "strokeWidth": 4},
             "encoding": {"x": {"field": "h", "type": "quantitative"}, "y": {"field": "v", "type": "quantitative"}, "color": {"datum": "From Storage", "type": "nominal"}}},
            {"data": {"name": "b_d"}, "mark": {"type": "line", "strokeWidth": 4, "strokeDash": [6, 30]},
             "encoding": {"x": {"field": "h", "type": "quantitative"}, "y": {"field": "v", "type": "quantitative"}, "color": {"datum": "Demand", "type": "nominal"}}},
            {"data": {"name": "b_r"}, "mark": {"type": "line", "interpolate": "step-after", "strokeWidth": 4},
             "encoding": {"x": {"field": "h", "type": "quantitative"}, "y": {"field": "v", "type": "quantitative"}, "color": {"datum": "From Fuelwood", "type": "nominal"}}},
            {"data": {"values": [{"t": "(b)"}]}, "mark": {"type": "text", "fontSize": 33, "fontWeight": "bold", "font": "'Liberation Sans', Arial, sans-serif", "fill": "#000000", "align": "center", "baseline": "middle"},
             "encoding": {"x": {"datum": 25}, "y": {"datum": 13.2}, "text": {"field": "t"}}}
          ]
        }
      ]
    },
    {
      "spacing": 0,
      "resolve": {"scale": {"color": "independent", "strokeDash": "independent"}},
      "hconcat": [
        {"width": 22, "height": 946.5, "view": {"stroke": null}, "data": {"values": []}, "mark": "point"},
        {
          "width": 993, "height": 783,
          "layer": [
            {"data": {"name": "c_s"}, "mark": {"type": "line", "interpolate": "monotone", "strokeWidth": 3.5},
             "encoding": {
               "x": {"field": "h", "type": "quantitative", "scale": {"domain": [0, 624], "nice": false, "zero": false}, "axis": {"values": [0, 100, 200, 300, 400, 500, 600], "format": "d", "title": "Hour of Simulation", "labelFontSize": 27, "titleFontSize": 33, "labelPadding": 21, "titlePadding": 16.7}},
               "y": {"field": "v", "type": "quantitative", "scale": {"domain": [0, 12], "nice": false}, "axis": {"values": [0, 2, 4, 6, 8, 10, 12], "format": "d", "title": "Energy (MWh)", "labelFontSize": 27, "titleFontSize": 33, "labelPadding": 14.6, "titlePadding": 10}},
               "color": {"datum": "Solar Generation", "type": "nominal", "scale": {"domain": ["Solar Generation", "From Storage", "Demand", "From Fuelwood"], "range": ["#0072BD", "#00FF00", "#7E1E80", "#FF0000"]},
                 "legend": {"title": null, "legendX": 166, "legendY": 25, "symbolSize": 495, "labelOffset": 74.75, "labelFontSize": 27, "columnPadding": 30}},
               "strokeDash": {"datum": "Solar Generation", "type": "nominal", "scale": {"domain": ["Solar Generation", "From Storage", "Demand", "From Fuelwood"], "range": [[1, 0], [1, 0], [4, 4], [1, 0]]},
                 "legend": {"title": null, "legendX": 166, "legendY": 25, "symbolSize": 495, "labelOffset": 74.75, "labelFontSize": 27, "columnPadding": 30}}
             }},
            {"data": {"name": "c_g"}, "mark": {"type": "line", "interpolate": "step-after", "strokeWidth": 4},
             "encoding": {"x": {"field": "h", "type": "quantitative"}, "y": {"field": "v", "type": "quantitative"}, "color": {"datum": "From Storage", "type": "nominal"}}},
            {"data": {"name": "c_d"}, "mark": {"type": "line", "strokeWidth": 4, "strokeDash": [6, 30]},
             "encoding": {"x": {"field": "h", "type": "quantitative"}, "y": {"field": "v", "type": "quantitative"}, "color": {"datum": "Demand", "type": "nominal"}}},
            {"data": {"name": "c_r"}, "mark": {"type": "line", "interpolate": "step-after", "strokeWidth": 4},
             "encoding": {"x": {"field": "h", "type": "quantitative"}, "y": {"field": "v", "type": "quantitative"}, "color": {"datum": "From Fuelwood", "type": "nominal"}}},
            {"data": {"values": [{"t": "(c)"}]}, "mark": {"type": "text", "fontSize": 33, "fontWeight": "bold", "font": "'Liberation Sans', Arial, sans-serif", "fill": "#000000", "align": "center", "baseline": "middle"},
             "encoding": {"x": {"datum": 26.4}, "y": {"datum": 11.34}, "text": {"field": "t"}}}
          ]
        }
      ]
    },
    {
      "spacing": 0,
      "resolve": {"scale": {"color": "independent", "strokeDash": "independent"}},
      "hconcat": [
        {"width": 29, "height": 938, "view": {"stroke": null}, "data": {"values": []}, "mark": "point"},
        {
          "width": 978, "height": 773,
          "layer": [
            {"data": {"name": "d_s"}, "mark": {"type": "line", "interpolate": "monotone", "strokeWidth": 3.5},
             "encoding": {
               "x": {"field": "h", "type": "quantitative", "scale": {"domain": [0, 624], "nice": false, "zero": false}, "axis": {"values": [0, 100, 200, 300, 400, 500, 600], "format": "d", "title": "Hour of Simulation", "labelFontSize": 27, "titleFontSize": 33, "labelPadding": 21, "titlePadding": 14.7}},
               "y": {"field": "v", "type": "quantitative", "scale": {"domain": [0, 12], "nice": false}, "axis": {"values": [0, 2, 4, 6, 8, 10, 12], "format": "d", "title": "Energy (MWh)", "labelFontSize": 27, "titleFontSize": 33, "labelPadding": 14.4, "titlePadding": 12.4}},
               "color": {"datum": "Solar Generation", "type": "nominal", "scale": {"domain": ["Solar Generation", "From Storage", "Demand", "From Fuelwood"], "range": ["#0072BD", "#00FF00", "#7E1E80", "#FF0000"]},
                 "legend": {"title": null, "legendX": 163, "legendY": 24, "symbolSize": 484, "labelOffset": 74, "labelFontSize": 27, "columnPadding": 22}},
               "strokeDash": {"datum": "Solar Generation", "type": "nominal", "scale": {"domain": ["Solar Generation", "From Storage", "Demand", "From Fuelwood"], "range": [[1, 0], [1, 0], [4, 4], [1, 0]]},
                 "legend": {"title": null, "legendX": 163, "legendY": 24, "symbolSize": 484, "labelOffset": 74, "labelFontSize": 27, "columnPadding": 22}}
             }},
            {"data": {"name": "d_g"}, "mark": {"type": "line", "interpolate": "step-after", "strokeWidth": 4},
             "encoding": {"x": {"field": "h", "type": "quantitative"}, "y": {"field": "v", "type": "quantitative"}, "color": {"datum": "From Storage", "type": "nominal"}}},
            {"data": {"name": "d_d"}, "mark": {"type": "line", "strokeWidth": 4, "strokeDash": [6, 30]},
             "encoding": {"x": {"field": "h", "type": "quantitative"}, "y": {"field": "v", "type": "quantitative"}, "color": {"datum": "Demand", "type": "nominal"}}},
            {"data": {"name": "d_r"}, "mark": {"type": "line", "interpolate": "step-after", "strokeWidth": 4},
             "encoding": {"x": {"field": "h", "type": "quantitative"}, "y": {"field": "v", "type": "quantitative"}, "color": {"datum": "From Fuelwood", "type": "nominal"}}},
            {"data": {"values": [{"t": "(d)"}]}, "mark": {"type": "text", "fontSize": 33, "fontWeight": "bold", "font": "'Liberation Sans', Arial, sans-serif", "fill": "#000000", "align": "center", "baseline": "middle"},
             "encoding": {"x": {"datum": 26}, "y": {"datum": 11.35}, "text": {"field": "t"}}}
          ]
        }
      ]
    },
    {
      "spacing": 0,
      "resolve": {"scale": {"color": "independent", "strokeDash": "independent"}},
      "hconcat": [
        {"width": 1, "height": 939.5, "view": {"stroke": null}, "data": {"values": []}, "mark": "point"},
        {
          "width": 1028, "height": 812,
          "layer": [
            {"data": {"name": "e_s"}, "mark": {"type": "line", "interpolate": "monotone", "strokeWidth": 3.5},
             "encoding": {
               "x": {"field": "h", "type": "quantitative", "scale": {"domain": [0, 624], "nice": false, "zero": false}, "axis": {"values": [0, 100, 200, 300, 400, 500, 600], "format": "d", "title": "Hour of Simulation", "labelFontSize": 28, "titleFontSize": 34, "labelPadding": 21, "titlePadding": 13.3}},
               "y": {"field": "v", "type": "quantitative", "scale": {"domain": [0, 12], "nice": false}, "axis": {"values": [0, 2, 4, 6, 8, 10, 12], "format": "d", "title": "Energy (MWh)", "labelFontSize": 28, "titleFontSize": 34, "labelPadding": 15.1, "titlePadding": 12}},
               "color": {"datum": "Solar Generation", "type": "nominal", "scale": {"domain": ["Solar Generation", "From Storage", "Demand", "From Fuelwood"], "range": ["#0072BD", "#00FF00", "#7E1E80", "#FF0000"]},
                 "legend": {"title": null, "legendX": 172, "legendY": 25, "symbolSize": 529, "labelOffset": 77, "labelFontSize": 28, "columnPadding": 30}},
               "strokeDash": {"datum": "Solar Generation", "type": "nominal", "scale": {"domain": ["Solar Generation", "From Storage", "Demand", "From Fuelwood"], "range": [[1, 0], [1, 0], [4, 4], [1, 0]]},
                 "legend": {"title": null, "legendX": 172, "legendY": 25, "symbolSize": 529, "labelOffset": 77, "labelFontSize": 28, "columnPadding": 30}}
             }},
            {"data": {"name": "e_g"}, "mark": {"type": "line", "interpolate": "step-after", "strokeWidth": 4},
             "encoding": {"x": {"field": "h", "type": "quantitative"}, "y": {"field": "v", "type": "quantitative"}, "color": {"datum": "From Storage", "type": "nominal"}}},
            {"data": {"name": "e_d"}, "mark": {"type": "line", "strokeWidth": 4, "strokeDash": [6, 30]},
             "encoding": {"x": {"field": "h", "type": "quantitative"}, "y": {"field": "v", "type": "quantitative"}, "color": {"datum": "Demand", "type": "nominal"}}},
            {"data": {"name": "e_r"}, "mark": {"type": "line", "interpolate": "step-after", "strokeWidth": 4},
             "encoding": {"x": {"field": "h", "type": "quantitative"}, "y": {"field": "v", "type": "quantitative"}, "color": {"datum": "From Fuelwood", "type": "nominal"}}},
            {"data": {"values": [{"t": "(e)"}]}, "mark": {"type": "text", "fontSize": 34, "fontWeight": "bold", "font": "'Liberation Sans', Arial, sans-serif", "fill": "#000000", "align": "center", "baseline": "middle"},
             "encoding": {"x": {"datum": 26}, "y": {"datum": 11.34}, "text": {"field": "t"}}}
          ]
        }
      ]
    },
    {
      "spacing": 0,
      "resolve": {"scale": {"color": "independent", "strokeDash": "independent"}},
      "hconcat": [
        {"width": 1, "height": 850, "view": {"stroke": null}, "data": {"values": []}, "mark": "point"},
        {
          "width": 1065, "height": 840,
          "layer": [
            {"data": {"name": "f_s"}, "mark": {"type": "line", "interpolate": "monotone", "strokeWidth": 3.5},
             "encoding": {
               "x": {"field": "h", "type": "quantitative", "scale": {"domain": [0, 648], "nice": false, "zero": false}, "axis": {"values": [0, 100, 200, 300, 400, 500, 600], "format": "d", "title": "Hour of Simulation", "labelFontSize": 29, "titleFontSize": 35, "labelPadding": 21, "titlePadding": 9}},
               "y": {"field": "v", "type": "quantitative", "scale": {"domain": [0, 14], "nice": false}, "axis": {"values": [0, 2, 4, 6, 8, 10, 12, 14], "format": "d", "title": "Energy (MWh)", "labelFontSize": 29, "titleFontSize": 35, "labelPadding": 15.7, "titlePadding": 10}},
               "color": {"datum": "Solar Generation", "type": "nominal", "scale": {"domain": ["Solar Generation", "From Storage", "Demand", "From Fuelwood"], "range": ["#0072BD", "#00FF00", "#7E1E80", "#FF0000"]},
                 "legend": {"title": null, "legendX": 179, "legendY": 27, "symbolSize": 564, "labelOffset": 79.25, "labelFontSize": 29, "columnPadding": 34}},
               "strokeDash": {"datum": "Solar Generation", "type": "nominal", "scale": {"domain": ["Solar Generation", "From Storage", "Demand", "From Fuelwood"], "range": [[1, 0], [1, 0], [4, 4], [1, 0]]},
                 "legend": {"title": null, "legendX": 179, "legendY": 27, "symbolSize": 564, "labelOffset": 79.25, "labelFontSize": 29, "columnPadding": 34}}
             }},
            {"data": {"name": "f_g"}, "mark": {"type": "line", "interpolate": "step-after", "strokeWidth": 4},
             "encoding": {"x": {"field": "h", "type": "quantitative"}, "y": {"field": "v", "type": "quantitative"}, "color": {"datum": "From Storage", "type": "nominal"}}},
            {"data": {"name": "f_d"}, "mark": {"type": "line", "strokeWidth": 4, "strokeDash": [6, 30]},
             "encoding": {"x": {"field": "h", "type": "quantitative"}, "y": {"field": "v", "type": "quantitative"}, "color": {"datum": "Demand", "type": "nominal"}}},
            {"data": {"name": "f_r"}, "mark": {"type": "line", "interpolate": "step-after", "strokeWidth": 4},
             "encoding": {"x": {"field": "h", "type": "quantitative"}, "y": {"field": "v", "type": "quantitative"}, "color": {"datum": "From Fuelwood", "type": "nominal"}}},
            {"data": {"values": [{"t": "(f)"}]}, "mark": {"type": "text", "fontSize": 35, "fontWeight": "bold", "font": "'Liberation Sans', Arial, sans-serif", "fill": "#000000", "align": "center", "baseline": "middle"},
             "encoding": {"x": {"datum": 25.5}, "y": {"datum": 13.2}, "text": {"field": "t"}}}
          ]
        }
      ]
    }
  ],
  "resolve": {"scale": {"color": "independent", "strokeDash": "independent"}}
}
